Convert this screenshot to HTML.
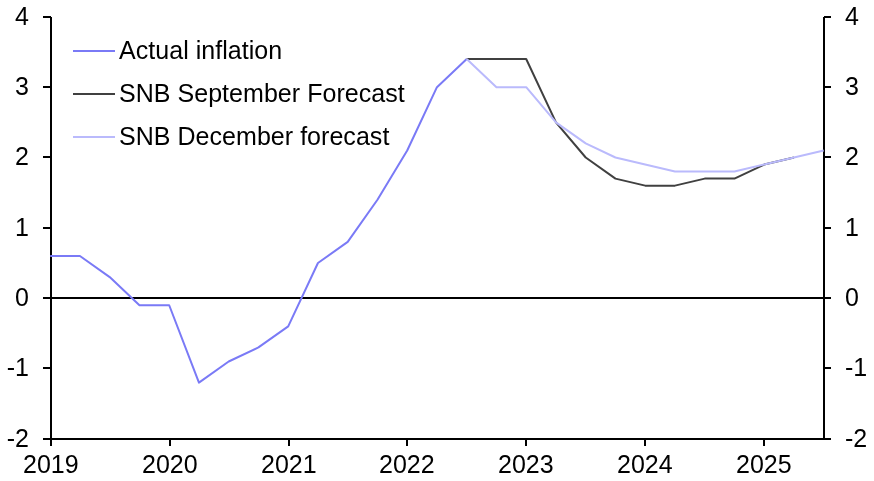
<!DOCTYPE html>
<html lang="en">
<head>
<meta charset="utf-8">
<title>SNB inflation forecasts</title>
<style>
html,body{margin:0;padding:0;background:#fff;}
body{width:874px;height:481px;overflow:hidden;}
svg{display:block;}
.lg{letter-spacing:0.04px;}
text{font-family:"Liberation Sans",Arial,sans-serif;font-size:25px;fill:#000;}
.ax{fill:#000;shape-rendering:crispEdges;}
.ln{fill:none;stroke-width:2;stroke-linejoin:round;stroke-linecap:butt;}
</style>
</head>
<body>
<svg width="874" height="481" viewBox="0 0 874 481">
<rect x="0" y="0" width="874" height="481" fill="#fff"/>

<rect class="ax" x="51" y="297" width="773" height="2"/>
<rect class="ax" x="50" y="17" width="2" height="429"/>
<rect class="ax" x="823" y="17" width="2" height="423"/>
<rect class="ax" x="43" y="438" width="788" height="2"/>
<rect class="ax" x="43" y="16" width="8" height="2"/>
<rect class="ax" x="824" y="16" width="7" height="2"/>
<text x="29" y="24.7" text-anchor="end">4</text>
<text x="845.0" y="24.7" text-anchor="start">4</text>
<rect class="ax" x="43" y="86" width="8" height="2"/>
<rect class="ax" x="824" y="86" width="7" height="2"/>
<text x="29" y="94.7" text-anchor="end">3</text>
<text x="845.0" y="94.7" text-anchor="start">3</text>
<rect class="ax" x="43" y="156" width="8" height="2"/>
<rect class="ax" x="824" y="156" width="7" height="2"/>
<text x="29" y="164.7" text-anchor="end">2</text>
<text x="845.0" y="164.7" text-anchor="start">2</text>
<rect class="ax" x="43" y="227" width="8" height="2"/>
<rect class="ax" x="824" y="227" width="7" height="2"/>
<text x="29" y="235.7" text-anchor="end">1</text>
<text x="845.0" y="235.7" text-anchor="start">1</text>
<rect class="ax" x="43" y="297" width="8" height="2"/>
<rect class="ax" x="824" y="297" width="7" height="2"/>
<text x="29" y="305.7" text-anchor="end">0</text>
<text x="845.0" y="305.7" text-anchor="start">0</text>
<rect class="ax" x="43" y="367" width="8" height="2"/>
<rect class="ax" x="824" y="367" width="7" height="2"/>
<text x="29" y="375.7" text-anchor="end">-1</text>
<text x="845.0" y="375.7" text-anchor="start">-1</text>
<rect class="ax" x="43" y="438" width="8" height="2"/>
<rect class="ax" x="824" y="438" width="7" height="2"/>
<text x="29" y="446.7" text-anchor="end">-2</text>
<text x="845.0" y="446.7" text-anchor="start">-2</text>
<text x="50.8" y="472.5" text-anchor="middle">2019</text>
<rect class="ax" x="169" y="439" width="2" height="7"/>
<text x="169.8" y="472.5" text-anchor="middle">2020</text>
<rect class="ax" x="288" y="439" width="2" height="7"/>
<text x="288.8" y="472.5" text-anchor="middle">2021</text>
<rect class="ax" x="406" y="439" width="2" height="7"/>
<text x="406.8" y="472.5" text-anchor="middle">2022</text>
<rect class="ax" x="525" y="439" width="2" height="7"/>
<text x="525.8" y="472.5" text-anchor="middle">2023</text>
<rect class="ax" x="644" y="439" width="2" height="7"/>
<text x="644.8" y="472.5" text-anchor="middle">2024</text>
<rect class="ax" x="763" y="439" width="2" height="7"/>
<text x="763.8" y="472.5" text-anchor="middle">2025</text>
<polyline class="ln" stroke="#7A7AF6" points="50.20,255.99 79.95,255.99 109.70,277.09 139.45,305.24 169.20,305.24 198.95,382.62 228.70,361.51 258.45,347.44 288.20,326.34 317.95,263.02 347.70,241.92 377.45,199.71 407.20,150.47 436.95,87.15 466.70,59.01"/>
<polyline class="ln" stroke="#404040" points="466.70,59.01 496.45,59.01 526.20,59.01 555.95,122.32 585.70,157.50 615.45,178.61 645.20,185.64 674.95,185.64 704.70,178.61 734.45,178.61 764.20,164.53 793.95,157.50"/>
<polyline class="ln" stroke="#BABAFC" points="466.70,59.01 496.45,87.15 526.20,87.15 555.95,122.32 585.70,143.43 615.45,157.50 645.20,164.53 674.95,171.57 704.70,171.57 734.45,171.57 764.20,164.53 793.95,157.50 823.70,150.47"/>
<rect x="73" y="50" width="42" height="2" fill="#7A7AF6" shape-rendering="crispEdges"/>
<text class="lg" x="119" y="59.0">Actual inflation</text>
<rect x="73" y="93" width="42" height="2" fill="#404040" shape-rendering="crispEdges"/>
<text class="lg" x="119" y="102.0">SNB September Forecast</text>
<rect x="73" y="136" width="42" height="2" fill="#BABAFC" shape-rendering="crispEdges"/>
<text class="lg" x="119" y="145.0">SNB December forecast</text>
</svg>
</body>
</html>
